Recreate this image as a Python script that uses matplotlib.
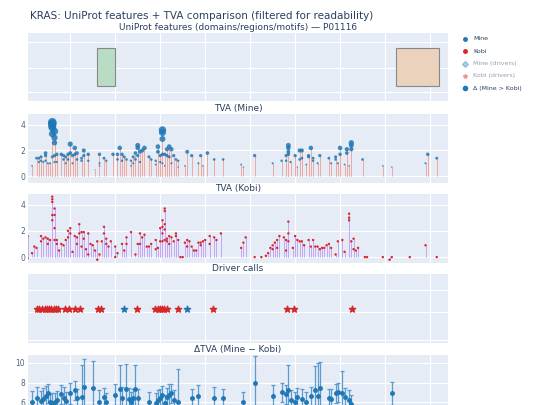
import numpy as np
import matplotlib.pyplot as plt
from matplotlib.lines import Line2D
from matplotlib.patches import Rectangle

# ---------------------------------------------------------------------------
# Data
# ---------------------------------------------------------------------------
FEATURES = [(32, 40, '#b9dcc4'), (165, 184, '#ead2bd')]  # (start, end, colour)

mine_pos = [3, 5, 6, 6, 7, 7, 8, 9, 9, 9, 10, 11, 12, 12, 12, 12, 12, 12, 13, 13, 13, 13, 13,
            14, 14, 16, 17, 17, 18, 18, 19, 19, 20, 20, 21, 21, 22, 22, 23, 23, 25, 25, 26, 26,
            28, 28, 31, 33, 33, 33, 35, 36, 39, 41, 41, 42, 43, 43, 44, 45, 47, 47, 48, 48, 49,
            49, 50, 50, 50, 51, 51, 52, 53, 55, 56, 58, 58, 59, 59, 60, 60, 61, 61, 61, 61, 61,
            62, 62, 63, 63, 64, 64, 65, 65, 66, 67, 68, 68, 71, 72, 74, 77, 78, 79, 81, 84, 88,
            96, 97, 102, 110, 114, 116, 116, 117, 117, 117, 117, 118, 120, 121, 122, 122, 123,
            123, 125, 126, 126, 127, 128, 128, 130, 131, 135, 136, 138, 138, 139, 140, 140, 142,
            143, 143, 144, 145, 145, 145, 150, 159, 163, 178, 179, 183]
mine_val = [0.8, 1.4, 1.4, 1.1, 1.5, 1.2, 1.1, 1.8, 1.6, 1.2, 1.0, 1.0, 4.2, 4.1, 3.95, 3.8, 3.3, 1.5,
            3.5, 3.0, 2.6, 1.6, 1.1, 1.7, 1.1, 1.7, 1.6, 1.3, 1.5, 1.0, 1.7, 1.3, 2.5, 1.8, 1.6, 1.0,
            2.2, 1.7, 1.8, 1.3, 1.4, 1.2, 2.0, 1.6, 1.7, 1.2, 0.5, 1.7, 1.0, 0.8, 1.4, 1.2, 1.7, 1.7,
            1.3, 2.2, 1.2, 1.7, 1.5, 1.3, 0.8, 1.2, 1.0, 1.5, 1.8, 1.3, 2.4, 2.2, 1.6, 1.1, 1.9, 2.0,
            2.2, 1.5, 1.3, 1.2, 0.9, 2.3, 1.9, 1.6, 1.1, 3.6, 3.4, 2.9, 1.7, 1.0, 1.7, 0.8, 2.1, 1.6,
            2.3, 1.5, 2.1, 1.0, 1.6, 1.3, 1.2, 0.7, 0.8, 1.9, 1.6, 1.0, 1.6, 0.8, 1.8, 1.3, 1.3, 0.9,
            0.7, 1.6, 1.0, 1.2, 1.6, 1.2, 2.4, 2.2, 1.9, 1.7, 1.1, 1.6, 0.7, 2.0, 1.3, 2.0, 1.4, 0.9,
            1.6, 1.5, 2.2, 1.4, 1.2, 1.0, 1.6, 1.4, 1.0, 1.5, 1.3, 1.0, 2.2, 1.7, 0.9, 2.1, 1.8, 0.8,
            2.6, 2.4, 2.1, 1.3, 0.8, 0.7, 1.0, 1.7, 1.4]

kobi_pos = [1, 1, 3, 4, 5, 7, 7, 8, 9, 10, 10, 11, 12, 12, 12, 12, 12, 13, 13, 13, 13, 14, 14, 15,
            16, 17, 18, 19, 19, 20, 20, 21, 22, 23, 23, 24, 24, 25, 25, 26, 26, 27, 28, 28, 29, 30,
            31, 32, 32, 33, 34, 35, 35, 36, 36, 37, 38, 40, 40, 41, 43, 44, 45, 45, 47, 49, 50, 51,
            51, 52, 53, 54, 55, 56, 58, 58, 59, 60, 60, 61, 61, 61, 61, 62, 62, 62, 62, 62, 63, 63,
            64, 64, 65, 66, 67, 67, 68, 69, 70, 71, 72, 72, 73, 74, 75, 76, 77, 78, 78, 79, 80, 82,
            82, 84, 85, 87, 96, 97, 98, 102, 105, 107, 108, 109, 110, 110, 111, 112, 112, 113, 115,
            116, 116, 117, 117, 117, 119, 120, 121, 122, 123, 124, 126, 127, 128, 129, 130, 131,
            132, 133, 134, 135, 136, 138, 139, 141, 142, 144, 144, 144, 145, 146, 146, 147, 148,
            151, 152, 159, 162, 163, 171, 178, 183]
kobi_val = [1.6, -0.1, 0.3, 0.8, 0.7, 1.6, 1.2, 1.4, 1.5, 1.4, 1.0, 1.3, 4.6, 4.4, 4.2, 3.2, 2.8,
            3.7, 3.2, 2.2, 1.3, 1.3, 1.0, 0.5, 1.0, 0.9, 1.3, 2.0, 1.5, 2.2, 1.8, 0.4, 1.6, 1.5, 1.0,
            2.5, 1.8, 1.9, 0.8, 1.9, 1.4, 0.6, 1.8, 0.2, 1.0, 0.9, 0.5, 1.2, -0.2, 0.2, 1.2, 2.3, 1.8,
            1.4, 1.0, 0.8, 1.2, 0.8, 0.0, 0.3, 1.0, 0.5, 1.5, 1.0, 1.9, 0.2, 1.0, 1.8, 1.0, 1.5, 1.7,
            0.8, 0.8, 1.0, 1.3, 0.6, 0.7, 2.2, 1.2, 2.8, 2.3, 1.8, 1.2, 3.7, 3.5, 2.5, 2.1, 1.3, 1.4,
            1.2, 1.6, 1.0, 1.5, 1.2, 1.8, 1.6, 1.3, 0.0, 0.0, 1.1, 1.3, 0.8, 1.2, 0.8, 0.5, 0.5, 1.1,
            1.1, 0.9, 1.2, 1.3, 1.6, 1.0, 1.5, 1.3, 1.8, 0.7, 1.1, 1.5, 0.0, 0.0, 0.1, 0.3, 0.7, 0.9,
            0.6, 1.1, 1.3, 0.7, 1.6, 1.5, 1.3, 0.5, 2.7, 1.8, 1.2, 0.7, 1.6, 1.3, 1.2, 1.2, 0.9, 1.3,
            0.8, 1.3, 0.8, 0.8, 0.6, 0.7, 0.7, 0.9, 1.0, 0.7, 0.2, 1.2, 1.3, 0.4, 3.3, 3.0, 2.8, 1.2,
            1.4, 0.6, 0.5, 0.7, 0.0, 0.0, 0.0, -0.2, 0.0, 0.0, 0.9, 0.0]

driver_kobi = [5, 6, 7.4, 8.6, 9.6, 10.7, 11.6, 12.6, 13.6, 14.4, 17.8, 19.3, 22.2, 24.2, 32.3,
               33.6, 49.6, 57.8, 58.8, 59.7, 60.6, 61.5, 63, 67.9, 83.7, 116.3, 119.6, 145.2]
driver_mine = [43.9, 71.9]

delta_pos = [3, 5, 7, 8, 9, 10, 11, 12, 13, 14, 16, 17, 18, 20, 22, 23, 25, 26, 30, 33, 35, 36,
             40, 42, 43, 45, 46, 47, 48, 49, 50, 55, 58, 59, 60, 61, 62, 63, 64, 65, 66, 68, 74,
             77, 84, 88, 97, 102, 110, 114, 116, 117, 118, 120, 121, 123, 125, 127, 129, 130, 131,
             135, 136, 138, 139, 141, 142, 144, 145, 163]
delta_val = [6.0, 6.4, 6.1, 6.3, 6.6, 6.9, 6.0, 5.9, 6.0, 6.2, 6.8, 6.4, 6.1, 6.9, 7.2, 6.4, 6.5,
             7.6, 7.5, 6.0, 6.5, 6.0, 6.7, 7.3, 6.4, 7.3, 6.3, 6.0, 6.4, 7.4, 6.4, 6.0, 5.9, 6.2,
             6.4, 6.7, 5.9, 6.5, 6.7, 6.9, 6.2, 6.0, 6.4, 6.6, 6.4, 6.4, 6.0, 8.0, 6.6, 7.0, 6.8,
             7.2, 6.2, 6.0, 6.5, 6.3, 6.0, 6.6, 7.2, 6.6, 7.5, 6.4, 6.3, 6.9, 7.0, 6.9, 6.5, 6.2,
             5.8, 6.9]
delta_err = [1.1, 1.2, 1.0, 1.2, 1.1, 1.0, 0.8, 1.0, 0.9, 0.9, 1.0, 1.2, 0.9, 1.1, 1.0, 0.9, 3.3,
             2.8, 2.7, 1.2, 1.0, 0.9, 1.2, 2.5, 1.2, 2.6, 1.2, 1.0, 1.0, 2.4, 1.0, 1.0, 1.0, 1.0,
             1.0, 1.0, 0.8, 1.0, 1.2, 1.0, 1.0, 3.4, 1.0, 1.2, 1.2, 1.0, 1.0, 2.7, 1.2, 1.0, 1.0,
             2.6, 1.0, 1.0, 1.0, 1.0, 1.0, 1.0, 2.5, 3.4, 2.6, 1.0, 1.0, 1.0, 1.0, 2.3, 1.0, 1.0,
             0.9, 1.2]

# ---------------------------------------------------------------------------
BG = '#e5ecf6'
TXT = '#2a3f5f'
BLUE = '#1f77b4'
RED = '#d62728'
W, H = 540, 405
PANELS = [(33, 101), (114, 183), (194, 263), (274, 343), (355, 423)]  # top/bottom in px
TITLES = ['UniProt features (domains/regions/motifs) — P01116', 'TVA (Mine)', 'TVA (Kobi)',
          'Driver calls', 'ΔTVA (Mine − Kobi)']

fig = plt.figure(figsize=(W / 100, H / 100), dpi=100)
fig.patch.set_facecolor('white')
axes = []
for (top, bot), title in zip(PANELS, TITLES):
    ax = fig.add_axes([28 / W, 1 - bot / H, 420 / W, (bot - top) / H])
    ax.set_facecolor(BG)
    for s in ax.spines.values():
        s.set_visible(False)
    ax.set_xlim(1.2, 188)
    ax.set_xticks(np.arange(20, 181, 20))
    ax.set_xticklabels([])
    ax.grid(True, color='white', linewidth=0.8)
    ax.set_axisbelow(True)
    ax.tick_params(length=0, labelsize=5.5, labelcolor='#506784', pad=2)
    ax.set_title(title, fontsize=6.5, color=TXT, pad=2)
    axes.append(ax)

# features
ax = axes[0]
ax.set_ylim(0, 1)
ax.set_yticks([0.13, 0.49, 0.87])
ax.set_yticklabels([])
for start, end, col in FEATURES:
    ax.add_patch(Rectangle((start, 0.22), end - start, 0.56, facecolor=col,
                           edgecolor='#888888', linewidth=0.8, zorder=3))

# TVA mine
ax = axes[1]
ax.vlines(mine_pos, 0, mine_val, color='#f0a8a0', linewidth=0.7, zorder=2)
ax.scatter(mine_pos, mine_val, s=np.array(mine_val) ** 2 * 2.2, color=BLUE, alpha=0.85,
           edgecolors='none', zorder=3)
ax.set_ylim(-0.54, 4.85)
ax.set_yticks([0, 2, 4])

# TVA kobi
ax = axes[2]
ax.vlines(kobi_pos, 0, kobi_val, color='#c7a6f5', linewidth=0.7, zorder=2)
ax.scatter(kobi_pos, kobi_val, s=3, color=RED, edgecolors='none', zorder=3)
ax.set_ylim(-0.45, 4.8)
ax.set_yticks([0, 2, 4])

# drivers
ax = axes[3]
ax.scatter(driver_kobi, [0] * len(driver_kobi), marker='*', s=22, color=RED, zorder=3)
ax.scatter(driver_mine, [0] * len(driver_mine), marker='*', s=22, color=BLUE, zorder=3)
ax.set_ylim(-1, 1)
ax.set_yticks([-0.9, -0.1, 0.55])
ax.set_yticklabels([])

# delta
ax = axes[4]
ax.errorbar(delta_pos, delta_val, yerr=delta_err, fmt='o', ms=2.5, color=BLUE,
            ecolor='#5b9bd0', elinewidth=0.9, capsize=1.5, capthick=0.9, zorder=3)
ax.set_ylim(3.9, 10.8)
ax.set_yticks([6, 8, 10])

fig.text(30 / W, 1 - 16 / H, 'KRAS: UniProt features + TVA comparison (filtered for readability)',
         fontsize=7.5, color=TXT, va='center')

# legend
leg = [('Mine', 'o', BLUE, 1.0, 2.5), ('Kobi', 'o', RED, 1.0, 2.5),
       ('Mine (drivers)', 'D', BLUE, 0.35, 3), ('Kobi (drivers)', '*', RED, 0.35, 3.5),
       ('Δ (Mine > Kobi)', 'o', BLUE, 1.0, 3)]
for i, (lab, mk, col, a, ms) in enumerate(leg):
    y = 1 - (39 + i * 12.3) / H
    fig.add_artist(Line2D([465 / W], [y], marker=mk, color=col, alpha=a, ms=ms,
                          linestyle='none', transform=fig.transFigure))
    fig.text(473 / W, y, lab, fontsize=4.5, color=TXT, alpha=0.5 if a < 1 else 1.0, va='center')

fig.savefig('out.png', dpi=100, facecolor='white')
